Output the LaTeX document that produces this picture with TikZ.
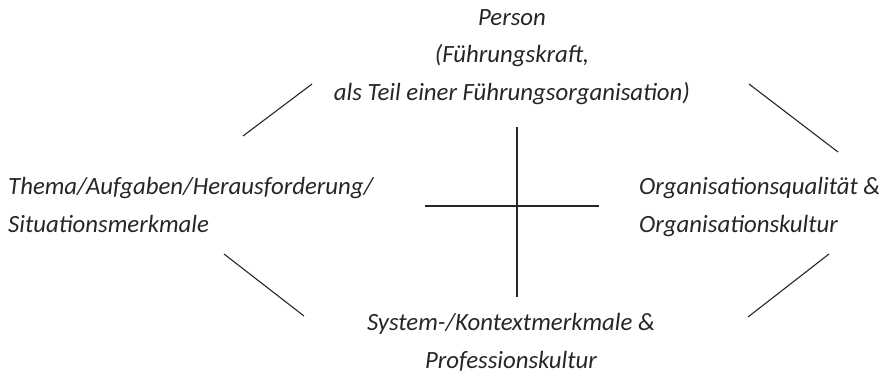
\documentclass[tikz,border=0pt]{standalone}
\usepackage{fontspec}
\setmainfont{Carlito}
\begin{document}
\begin{tikzpicture}[x=1pt,y=-1pt,
  lbl/.style={font=\fontsize{24.8}{37.5}\selectfont\itshape, inner sep=0pt, text=black!85},
  ln/.style={line width=1.1pt, black!85}]
\useasboundingbox (0,0) rectangle (882,375);
% labels (anchor base = baseline of the last line)
\node[lbl, align=center, anchor=base] (person) at (512,100) {Person\\(Führungskraft,\\als Teil einer Führungsorganisation)};
\node[lbl, align=left, anchor=base west] (thema) at (8,232) {Thema/Aufgaben/Herausforderung/\\Situationsmerkmale};
\node[lbl, align=left, anchor=base west] (orga) at (639,232) {Organisationsqualität \&\\Organisationskultur};
\node[lbl, align=center, anchor=base] (system) at (511,368) {System-/Kontextmerkmale \&\\Professionskultur};
% line end points
\coordinate (tl1) at (243,136); \coordinate (tl2) at (312,84);
\coordinate (tr1) at (749,84); \coordinate (tr2) at (838,152);
\coordinate (bl1) at (224,254); \coordinate (bl2) at (304,316);
\coordinate (br1) at (829,254); \coordinate (br2) at (748,317);
\coordinate (vt) at (517,127); \coordinate (vb) at (517,297);
\coordinate (hl) at (425,206); \coordinate (hr) at (599,206);
\draw[ln] (tl1) -- (tl2);
\draw[ln] (tr1) -- (tr2);
\draw[ln] (bl1) -- (bl2);
\draw[ln] (br1) -- (br2);
\draw[ln] (vt) -- (vb);
\draw[ln] (hl) -- (hr);
\end{tikzpicture}
\end{document}
